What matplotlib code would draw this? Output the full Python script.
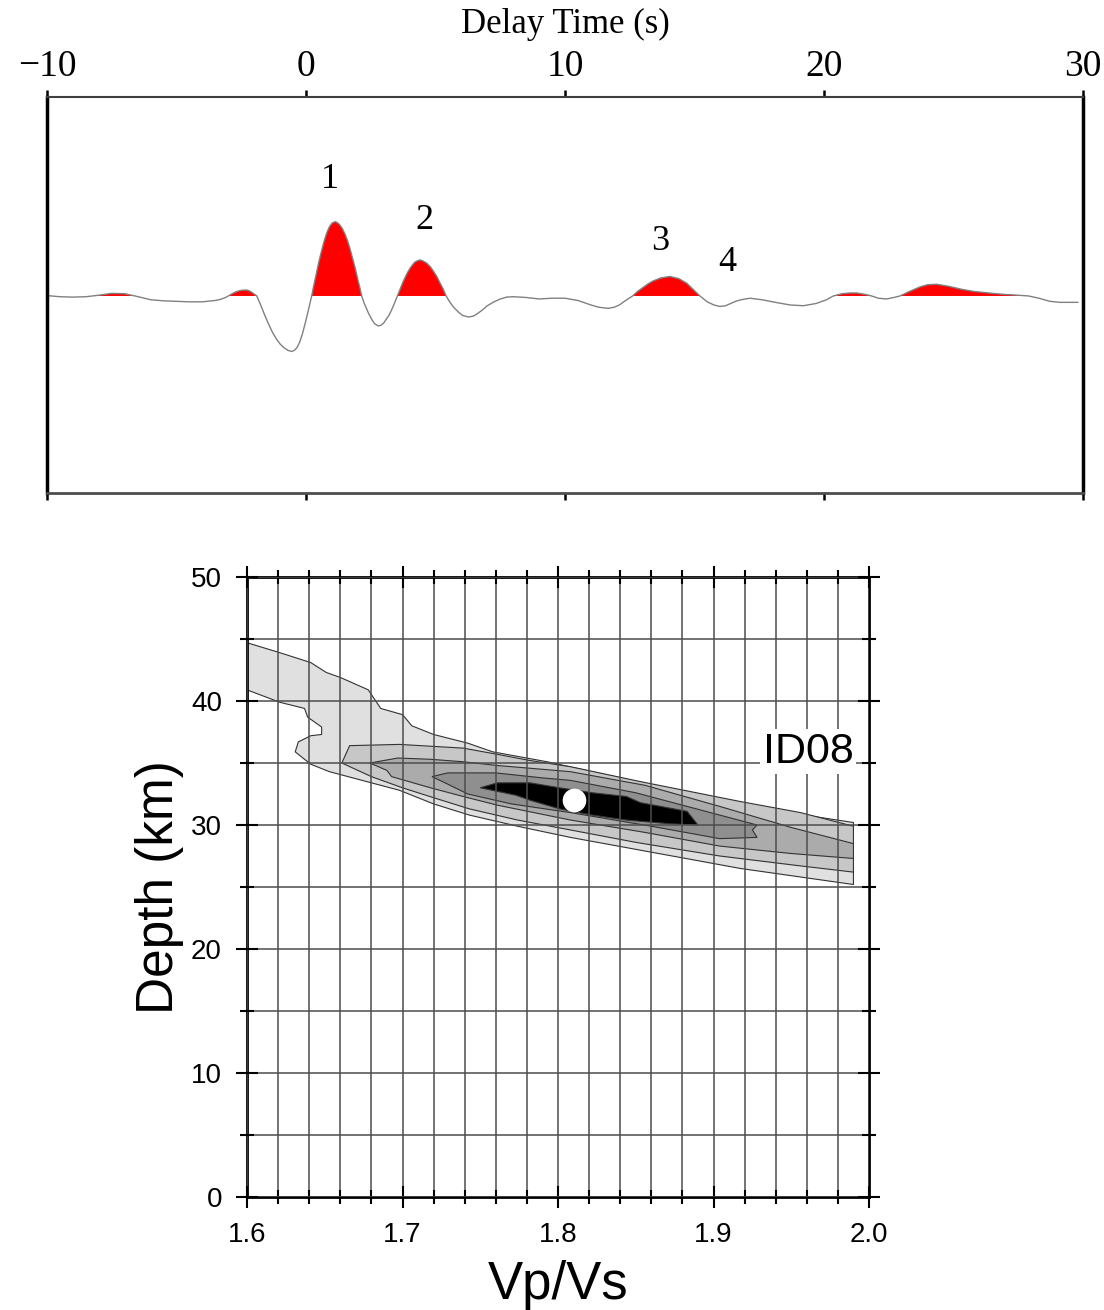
"""Receiver-function trace with H-k stacking contours for station ID08."""

import matplotlib
matplotlib.use("Agg")
import matplotlib.pyplot as plt
import numpy as np

# Receiver-function trace: delay time (s) and amplitude
TIME = [-10.0, -9.5, -9.0, -8.5, -8.0, -7.5, -7.0, -6.6, -6.0, -5.5, -5.0, -4.5,
        -4.0, -3.5, -3.3, -3.1, -2.95, -2.8, -2.65, -2.5, -2.3, -2.2, -2.1, -2.0,
        -1.9, -1.75, -1.6, -1.45, -1.3, -1.15, -1.0, -0.85, -0.7, -0.55, -0.45,
        -0.35, -0.25, -0.15, -0.05, 0.05, 0.13, 0.22, 0.3, 0.4, 0.5, 0.6, 0.7, 0.8,
        0.9, 1.0, 1.12, 1.2, 1.3, 1.4, 1.5, 1.6, 1.7, 1.8, 1.9, 2.0, 2.08, 2.15,
        2.25, 2.4, 2.55, 2.65, 2.79, 2.9, 3.0, 3.1, 3.2, 3.3, 3.4, 3.53, 3.65, 3.75,
        3.9, 4.0, 4.1, 4.2, 4.3, 4.4, 4.5, 4.65, 4.8, 4.9, 5.05, 5.15, 5.3, 5.41,
        5.55, 5.7, 5.9, 6.05, 6.27, 6.45, 6.6, 6.8, 7.0, 7.25, 7.5, 7.75, 8.0, 8.5,
        9.0, 9.5, 10.0, 10.5, 11.0, 11.3, 11.67, 11.9, 12.1, 12.3, 12.45, 12.61,
        12.8, 13.0, 13.2, 13.4, 13.7, 14.05, 14.4, 14.7, 14.85, 15.0, 15.21, 15.5,
        15.75, 15.98, 16.2, 16.4, 16.6, 16.8, 17.14, 17.6, 18.2, 18.7, 19.2, 19.7,
        20.1, 20.36, 20.7, 21.0, 21.26, 21.6, 21.84, 22.1, 22.42, 22.7, 22.93, 23.3,
        23.7, 24.0, 24.35, 24.8, 25.3, 25.8, 26.5, 27.0, 27.5, 27.9, 28.3, 28.7,
        29.1, 29.8]
AMPLITUDE = [0.005, -0.01, -0.015, -0.01, 0.01, 0.035, 0.03, 0.0, -0.05, -0.065,
             -0.072, -0.078, -0.078, -0.06, -0.045, -0.02, 0.01, 0.04, 0.062, 0.075,
             0.08, 0.07, 0.05, 0.025, 0.0, -0.12, -0.25, -0.37, -0.48, -0.57, -0.64,
             -0.69, -0.725, -0.74, -0.725, -0.69, -0.62, -0.52, -0.39, -0.25, -0.13,
             0.0, 0.14, 0.30, 0.46, 0.60, 0.73, 0.84, 0.92, 0.97, 0.99, 0.98, 0.95,
             0.90, 0.83, 0.74, 0.63, 0.50, 0.37, 0.22, 0.11, 0.0, -0.10, -0.22, -0.32,
             -0.37, -0.40, -0.39, -0.36, -0.31, -0.26, -0.19, -0.11, 0.0, 0.10, 0.19,
             0.30, 0.36, 0.41, 0.45, 0.47, 0.48, 0.47, 0.44, 0.39, 0.34, 0.26, 0.19,
             0.09, 0.0, -0.08, -0.15, -0.22, -0.26, -0.28, -0.27, -0.24, -0.19, -0.13,
             -0.08, -0.04, -0.015, -0.01, -0.02, -0.04, -0.03, -0.03, -0.06, -0.12,
             -0.15, -0.165, -0.15, -0.12, -0.07, -0.035, 0.0, 0.06, 0.11, 0.16, 0.20,
             0.24, 0.26, 0.23, 0.17, 0.12, 0.07, 0.0, -0.08, -0.12, -0.14, -0.13,
             -0.10, -0.07, -0.05, -0.03, -0.05, -0.09, -0.12, -0.13, -0.10, -0.05,
             0.0, 0.03, 0.04, 0.04, 0.02, 0.0, -0.03, -0.04, -0.02, 0.0, 0.06, 0.12,
             0.15, 0.156, 0.13, 0.09, 0.06, 0.035, 0.02, 0.01, 0.0, -0.03, -0.07,
             -0.085, -0.085]

# Phase labels and where they sit above the trace
PHASE_LABELS = ["1", "2", "3", "4"]
PHASE_TIME = [0.93, 4.59, 13.69, 16.28]
PHASE_HEIGHT = [1.55, 1.0, 0.72, 0.44]

# Stacking-amplitude contour regions, outermost first: (Vp/Vs, depth km)
CONTOUR_1 = [(1.600, 44.7), (1.621, 43.9), (1.641, 43.1), (1.651, 42.3), (1.660, 41.9),
             (1.678, 40.9), (1.686, 39.4), (1.700, 38.9), (1.706, 38.0), (1.720, 37.3),
             (1.742, 36.6), (1.758, 35.9), (1.793, 35.1), (1.840, 33.8), (1.880, 32.7),
             (1.900, 32.0), (1.938, 31.2), (1.990, 30.2), (1.990, 25.2), (1.917, 26.5),
             (1.904, 26.8), (1.808, 29.0), (1.774, 29.9), (1.743, 30.8), (1.720, 31.7),
             (1.698, 32.8), (1.653, 34.3), (1.641, 34.9), (1.631, 35.9), (1.633, 36.7),
             (1.641, 37.2), (1.648, 37.3), (1.648, 37.9), (1.639, 38.7), (1.637, 39.4),
             (1.621, 39.9), (1.600, 40.9)]
CONTOUR_2 = [(1.661, 35.0), (1.666, 36.4), (1.698, 36.5), (1.739, 36.2), (1.761, 35.7),
             (1.782, 35.2), (1.808, 34.7), (1.853, 33.5), (1.917, 31.9), (1.956, 31.0),
             (1.990, 29.9), (1.990, 26.2), (1.956, 26.7), (1.904, 27.5), (1.850, 28.6),
             (1.808, 29.6), (1.774, 30.4), (1.743, 31.3), (1.720, 32.2), (1.700, 33.0),
             (1.680, 33.9)]
CONTOUR_3 = [(1.679, 35.0), (1.697, 35.4), (1.718, 35.3), (1.739, 35.1), (1.761, 34.8),
             (1.808, 34.3), (1.856, 33.2), (1.904, 31.5), (1.950, 29.8), (1.990, 28.5),
             (1.990, 27.3), (1.950, 27.7), (1.904, 28.3), (1.856, 29.4), (1.808, 30.4),
             (1.761, 31.6), (1.739, 32.3), (1.718, 33.0), (1.693, 33.9), (1.690, 34.4)]
CONTOUR_4 = [(1.719, 33.9), (1.729, 34.2), (1.760, 34.2), (1.790, 33.8), (1.808, 33.6),
             (1.850, 32.6), (1.904, 30.8), (1.928, 30.0), (1.925, 29.6), (1.928, 29.0),
             (1.904, 28.9), (1.860, 29.9), (1.808, 31.0), (1.770, 31.7), (1.742, 32.5),
             (1.729, 33.3)]
CONTOUR_5 = [(1.750, 33.0), (1.761, 33.4), (1.782, 33.4), (1.801, 33.0), (1.822, 32.6),
             (1.844, 32.3), (1.853, 31.8), (1.866, 31.5), (1.883, 31.1), (1.890, 30.0),
             (1.872, 30.1), (1.844, 30.4), (1.822, 30.8), (1.801, 31.3), (1.782, 32.0),
             (1.773, 32.4)]
CONTOUR_SHADES = ["0.88", "0.78", "0.67", "0.56", "black"]

# Best-fitting Vp/Vs and Moho depth
BEST_VPVS = 1.81
BEST_DEPTH = 32.0
STATION = "ID08"

SERIF = ["Liberation Serif", "DejaVu Serif"]
SANS = ["Liberation Sans", "DejaVu Sans"]


def draw_trace(ax):
    """Receiver function with positive swings filled red."""
    t = np.array(TIME)
    a = np.array(AMPLITUDE)
    ax.fill_between(t, 0, a, where=a > 0, interpolate=True, color="red", lw=0)
    ax.plot(t, a, color="0.5", lw=1.0)

    for label, x, y in zip(PHASE_LABELS, PHASE_TIME, PHASE_HEIGHT):
        ax.text(x, y, label, ha="center", va="center", fontsize=26, family=SERIF)

    ax.set_xlim(-10, 30)
    ax.set_ylim(-2.627, 2.653)
    ax.set_yticks([])
    ax.set_xticks([-10, 0, 10, 20, 30])
    ax.xaxis.set_ticks_position("both")
    ax.xaxis.set_label_position("top")
    ax.tick_params(axis="x", which="both", direction="out", length=5, width=1.8,
                   labeltop=True, labelbottom=False, labelsize=27, pad=4.5)
    for lab in ax.get_xticklabels():
        lab.set_family(SERIF)
    ax.set_xlabel("Delay Time (s)", fontsize=25, family=SERIF, labelpad=12)

    ax.spines["left"].set_linewidth(2.5)
    ax.spines["right"].set_linewidth(2.5)
    ax.spines["top"].set_linewidth(1.5)
    ax.spines["top"].set_color("0.25")
    ax.spines["bottom"].set_linewidth(2.0)
    ax.spines["bottom"].set_color("0.3")


def draw_stack(ax):
    """Shaded stacking contours of Vp/Vs against Moho depth."""
    regions = [CONTOUR_1, CONTOUR_2, CONTOUR_3, CONTOUR_4, CONTOUR_5]
    for pts, shade in zip(regions, CONTOUR_SHADES):
        vp, dep = zip(*pts)
        ax.fill(vp, dep, facecolor=shade, edgecolor="0.2", lw=0.8, zorder=1)

    ax.set_xlim(1.6, 2.0)
    ax.set_ylim(0, 50)
    ax.set_xticks(np.arange(1.6, 2.001, 0.1))
    ax.set_xticks(np.arange(1.6, 2.001, 0.02), minor=True)
    ax.set_yticks(np.arange(0, 51, 10))
    ax.set_yticks(np.arange(0, 51, 5), minor=True)
    ax.xaxis.set_major_formatter(plt.FormatStrFormatter("%.1f"))

    # Grid sits over the shading
    ax.grid(which="both", color="0.3", lw=1.1, zorder=2)
    ax.set_axisbelow(False)

    ax.plot(BEST_VPVS, BEST_DEPTH, "o", color="white", ms=16, mec="white", zorder=4)
    ax.text(1.961, 35.9, STATION, ha="center", va="center", fontsize=31,
            family=SANS, zorder=5,
            bbox=dict(facecolor="white", edgecolor="none", pad=2))

    ax.tick_params(which="both", direction="inout", top=True, right=True,
                   labelsize=20, width=1.5)
    ax.tick_params(which="major", length=16, pad=10)
    ax.tick_params(which="minor", length=10)
    for lab in ax.get_xticklabels() + ax.get_yticklabels():
        lab.set_family(SANS)

    ax.set_xlabel("Vp/Vs", fontsize=38, family=SANS, labelpad=9)
    ax.set_ylabel("Depth (km)", fontsize=37, family=SANS, labelpad=5)
    for side in ax.spines.values():
        side.set_linewidth(2.0)


fig = plt.figure(figsize=(11.04, 13.10), dpi=100)
ax_trace = fig.add_axes([47 / 1104, 1 - 493 / 1310, 1036 / 1104, 396 / 1310])
ax_stack = fig.add_axes([247 / 1104, 1 - 1197 / 1310, 622 / 1104, 620 / 1310])

draw_trace(ax_trace)
draw_stack(ax_stack)

fig.savefig("out.png", dpi=100)
